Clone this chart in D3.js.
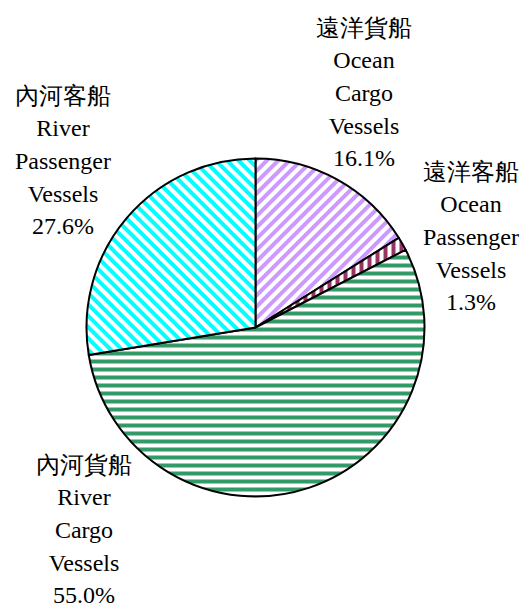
<!DOCTYPE html>
<html>
<head>
<meta charset="utf-8">
<title>Vessels pie</title>
<script src="https://d3js.org/d3.v7.min.js"></script>
<style>
  body { margin: 0; background: #fff; }
</style>
</head>
<body>
<script>

// data
var zhNames = ["遠洋貨船", "遠洋客船", "內河貨船", "內河客船"];
var enNames = [["Ocean", "Cargo", "Vessels"],
               ["Ocean", "Passenger", "Vessels"],
               ["River", "Cargo", "Vessels"],
               ["River", "Passenger", "Vessels"]];
var shares = [16.1, 1.3, 55.0, 27.6];

// look
var colors = ["#cc99ff", "#993366", "#339966", "#00ffff"];
var stripeTurn = [45, 0, 90, -45];   // rotation of a vertical stripe pattern
var labelAt = [[364, 93], [471, 237], [84, 530], [63, 161]];  // centre of each label block

var width = 526, height = 607;
var cx = 255.5, cy = 327.5, radius = 169;
var lineGap = 32.7;

var svg = d3.select("body").append("svg")
    .attr("width", width)
    .attr("height", height);

var defs = svg.append("defs");
shares.forEach(function (v, i) {
    var p = defs.append("pattern")
        .attr("id", "hatch" + i)
        .attr("patternUnits", "userSpaceOnUse")
        .attr("width", 8)
        .attr("height", 8)
        .attr("patternTransform", "rotate(" + stripeTurn[i] + ")");
    p.append("rect").attr("width", 8).attr("height", 8).attr("fill", "#fff");
    p.append("rect").attr("width", 4).attr("height", 8).attr("fill", colors[i]);
});

var pie = d3.pie().sort(null).value(function (d) { return d; });
var arc = d3.arc().innerRadius(0).outerRadius(radius);

var g = svg.append("g")
    .attr("transform", "translate(" + cx + "," + cy + ")");

g.selectAll("path")
    .data(pie(shares))
    .enter()
    .append("path")
    .attr("d", arc)
    .attr("fill", function (d, i) { return "url(#hatch" + i + ")"; })
    .attr("stroke", "#000")
    .attr("stroke-width", 2)
    .attr("stroke-linejoin", "round");

var fmt = d3.format(".1f");

shares.forEach(function (v, i) {
    var lines = [zhNames[i]].concat(enNames[i]).concat([fmt(v) + "%"]);
    var t = svg.append("text")
        .attr("font-family", "'Liberation Serif', 'DejaVu Serif', serif")
        .attr("font-size", 24)
        .attr("fill", "#000")
        .attr("text-anchor", "middle")
        .attr("dominant-baseline", "central");
    var y0 = labelAt[i][1] - (lines.length - 1) / 2 * lineGap;
    lines.forEach(function (s, k) {
        t.append("tspan")
            .attr("x", labelAt[i][0])
            .attr("y", y0 + k * lineGap)
            .text(s);
    });
});

</script>
</body>
</html>
